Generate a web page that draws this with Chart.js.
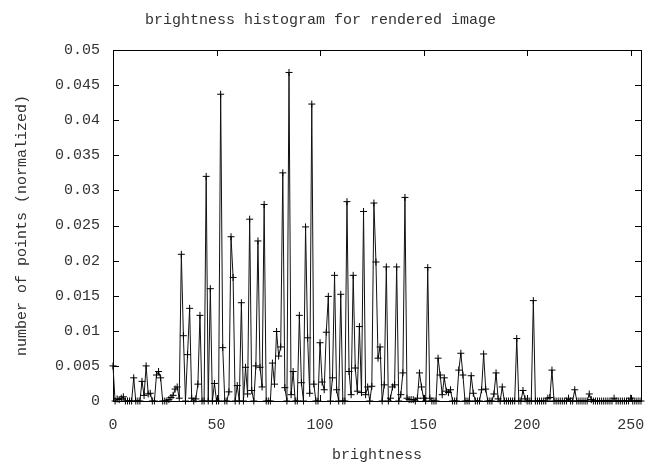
<!DOCTYPE html>
<html>
<head>
<meta charset="utf-8">
<title>brightness histogram</title>
<script src="https://cdn.jsdelivr.net/npm/chart.js@4/dist/chart.umd.min.js"></script>
<style>
  html, body { margin: 0; padding: 0; background: #fff; }
  #wrap { width: 648px; height: 466px; }
</style>
</head>
<body>
<div id="wrap"><canvas id="histChart" width="648" height="466"></canvas></div>
<script>
// normalized point count per brightness level (0..255)
const counts = [
  0.005, 0, 0.0003, 0.0002, 0.0004, 0.0006, 0, 0, 0, 0, 0.0033, 0, 0, 0, 0.0028, 0.0008,
  0.005, 0.001, 0.0011, 0, 0, 0.0037, 0.0042, 0.0033, 0, 0, 0, 0.0002, 0.0005, 0.0008, 0.0017, 0.002,
  0.0004, 0.0209, 0.0093, 0, 0.0066, 0.0132, 0.0004, 0, 0.0003, 0.0024, 0.0122, 0, 0, 0.032, 0, 0.016,
  0, 0.0025, 0, 0, 0.0437, 0.0076, 0, 0, 0.0013, 0.0234, 0.0176, 0, 0.0022, 0, 0.014, 0,
  0.0048, 0.001, 0.0259, 0.0015, 0, 0.005, 0.0228, 0.0048, 0.002, 0.028, 0, 0, 0, 0.0054, 0.0024, 0.0099,
  0.0064, 0.0077, 0.0325, 0.0019, 0, 0.0468, 0.0009, 0.0042, 0, 0, 0.0122, 0.0026, 0, 0.0248, 0.009, 0.0011,
  0.0423, 0.0024, 0, 0, 0.0083, 0.0027, 0.0016, 0.0098, 0.0149, 0, 0.0033, 0.0179, 0.0016, 0, 0.0152, 0,
  0, 0.0284, 0.0042, 0.0009, 0.0179, 0.0047, 0.0014, 0.0106, 0.0012, 0.027, 0.0009, 0.002, 0, 0.0021, 0.0282, 0.0198,
  0.0061, 0.0077, 0, 0.0023, 0.0191, 0, 0.0004, 0.002, 0.0023, 0.0191, 0, 0.0009, 0.004, 0.029, 0.0004, 0.0002,
  0.0002, 0.0002, 0, 0.0004, 0.004, 0.002, 0.0004, 0, 0.019, 0.0004, 0, 0, 0, 0.0061, 0.0037, 0.0009,
  0.0033, 0.0014, 0.0012, 0.0016, 0, 0, 0, 0.0044, 0.0068, 0.0037, 0, 0, 0, 0.0036, 0.0011, 0,
  0, 0, 0.0016, 0.0067, 0.0017, 0, 0, 0, 0.001, 0.004, 0.0003, 0, 0.002, 0, 0, 0,
  0, 0, 0, 0.0089, 0, 0, 0.0015, 0.0003, 0, 0, 0, 0.0143, 0, 0, 0, 0,
  0, 0, 0.0004, 0.0005, 0.0044, 0, 0, 0, 0, 0, 0, 0, 0.0004, 0, 0, 0.0016,
  0, 0, 0, 0, 0, 0, 0.001, 0.0002, 0, 0, 0, 0, 0, 0, 0, 0,
  0, 0, 0.0004, 0, 0, 0, 0, 0, 0, 0, 0.0004, 0, 0, 0, 0, 0
];
const brightness = counts.map((_, i) => i);
const xTickValues = [0, 50, 100, 150, 200, 250];
const yTickValues = [0, 0.005, 0.01, 0.015, 0.02, 0.025, 0.03, 0.035, 0.04, 0.045, 0.05];

const FONT = "'Liberation Mono', 'DejaVu Sans Mono', monospace";
const TEXT = "#333";

// gnuplot style border with inward ticks on all four sides
const frameTicks = {
  id: "frameTicks",
  beforeDatasetsDraw(chart) {
    const { ctx, chartArea: a, scales: { x, y } } = chart;
    const len = 6;
    ctx.save();
    ctx.strokeStyle = "#000";
    ctx.lineWidth = 1;
    ctx.beginPath();
    xTickValues.forEach(v => {
      const px = Math.round(x.getPixelForValue(v)) + 0.5;
      ctx.moveTo(px, a.bottom); ctx.lineTo(px, a.bottom - len);
      ctx.moveTo(px, a.top); ctx.lineTo(px, a.top + len);
    });
    yTickValues.forEach(v => {
      const py = Math.round(y.getPixelForValue(v)) + 0.5;
      ctx.moveTo(a.left, py); ctx.lineTo(a.left + len, py);
      ctx.moveTo(a.right, py); ctx.lineTo(a.right - len, py);
    });
    ctx.stroke();
    ctx.strokeRect(Math.round(a.left) + 0.5, Math.round(a.top) + 0.5,
      Math.round(a.right - a.left), Math.round(a.bottom - a.top));
    ctx.restore();
  }
};

const ctx = document.getElementById("histChart").getContext("2d");
new Chart(ctx, {
  type: "line",
  data: {
    datasets: [{
      data: brightness.map((b, i) => ({ x: b, y: counts[i] })),
      borderColor: "#111",
      borderWidth: 1,
      pointStyle: "cross",
      pointRadius: 3.5,
      pointBorderWidth: 1,
      pointBorderColor: "#000",
      tension: 0,
      clip: false
    }]
  },
  options: {
    responsive: false,
    animation: false,
    layout: { padding: { left: 0, right: 7, top: 0, bottom: 0 } },
    plugins: {
      legend: { display: false },
      tooltip: { enabled: false },
      title: {
        display: true,
        text: "brightness histogram for rendered image",
        color: TEXT,
        font: { family: FONT, size: 15, weight: "normal" },
        padding: { top: 11, bottom: 21 }
      }
    },
    scales: {
      x: {
        type: "linear",
        min: 0,
        max: 255,
        grid: { display: false, drawTicks: false },
        border: { display: false },
        afterBuildTicks: s => { s.ticks = xTickValues.map(v => ({ value: v })); },
        afterFit: s => { s.height = 65; s.paddingLeft = 0; s.paddingRight = 0; },
        ticks: {
          color: TEXT,
          padding: 15,
          maxRotation: 0,
          font: { family: FONT, size: 15 }
        },
        title: {
          display: true,
          text: "brightness",
          color: TEXT,
          font: { family: FONT, size: 15 },
          padding: { top: 0, bottom: 2 }
        }
      },
      y: {
        min: 0,
        max: 0.05,
        grid: { display: false, drawTicks: false },
        border: { display: false },
        afterBuildTicks: s => { s.ticks = yTickValues.map(v => ({ value: v })); },
        afterFit: s => { s.width = 113; s.paddingTop = 0; s.paddingBottom = 0; },
        ticks: {
          color: TEXT,
          padding: 13,
          font: { family: FONT, size: 15 },
          callback: v => String(Number(v.toFixed(3)))
        },
        title: {
          display: true,
          text: "number of points (normalized)",
          color: TEXT,
          font: { family: FONT, size: 15 },
          padding: { top: 13, bottom: 0 }
        }
      }
    }
  },
  plugins: [frameTicks]
});
</script>
</body>
</html>
